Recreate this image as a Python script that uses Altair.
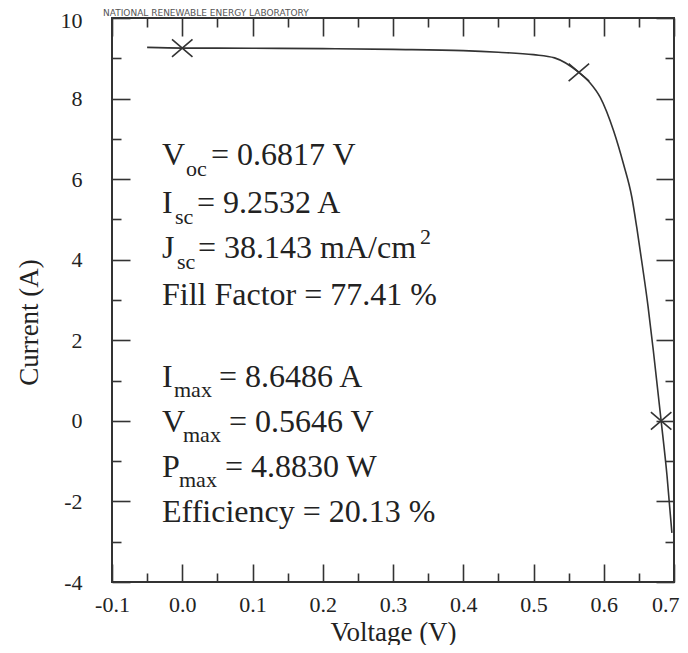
import altair as alt
import pandas as pd

# ---- data ----
voltage = [-0.05, 0.0, 0.10, 0.20, 0.30, 0.40, 0.45, 0.50, 0.53, 0.5646, 0.58,
           0.595, 0.614, 0.628, 0.640, 0.647, 0.655, 0.663, 0.6706, 0.6817, 0.690, 0.697]
current = [9.27, 9.2532, 9.25, 9.24, 9.22, 9.19, 9.15, 9.09, 9.01, 8.6486, 8.40,
           8.03, 7.20, 6.38, 5.55, 4.80, 3.85, 2.85, 1.74, 0.0, -1.35, -2.78]

marker_v = [0.0, 0.5646, 0.6817]
marker_i = [9.2532, 8.6486, 0.0]

x_major = [-0.1, 0.0, 0.1, 0.2, 0.3, 0.4, 0.5, 0.6, 0.7]
x_minor = [-0.05, 0.05, 0.15, 0.25, 0.35, 0.45, 0.55, 0.65]
y_major = [-4, -2, 0, 2, 4, 6, 8, 10]
y_minor = [-3, -1, 1, 3, 5, 7, 9]

ann_text = ["V", "oc", "= 0.6817 V",
            "I", "sc", "= 9.2532 A",
            "J", "sc", "= 38.143 mA/cm", "2",
            "Fill Factor = 77.41 %",
            "I", "max", "= 8.6486 A",
            "V", "max", "= 0.5646 V",
            "P", "max", "= 4.8830 W",
            "Efficiency = 20.13 %"]
ann_px = [50, 74, 99,
          50, 63, 85,
          50, 65, 86, 308,
          50,
          50, 62, 107,
          50, 71, 117,
          50, 67, 113,
          50]
ann_py = [147, 158, 147,
          195, 206, 195,
          240, 251, 240, 226,
          287,
          369, 379, 369,
          414, 424, 414,
          459, 469, 459,
          504]
ann_fs = [32, 22, 32,
          32, 22, 32,
          32, 22, 32, 22,
          32,
          32, 22, 32,
          32, 22, 32,
          32, 22, 32,
          32]

header_text = ["NATIONAL RENEWABLE ENERGY LABORATORY"]

# ---- chart ----
W, H = 562, 564
FONT = "Liberation Serif"
INK = "#222222"
LINE = "#333333"

curve_df = pd.DataFrame({"V": voltage, "I": current})
mk_df = pd.DataFrame({"V": marker_v, "I": marker_i})
ann_df = pd.DataFrame({"t": ann_text, "px": ann_px, "py": ann_py, "fs": ann_fs})
hdr_df = pd.DataFrame({"t": header_text, "px": [-9], "py": [-2]})

xs = alt.Scale(domain=[-0.1, 0.7], nice=False, zero=False)
ys = alt.Scale(domain=[-4, 10], nice=False, zero=False)

x_lab = "datum.value < 0 ? '-' + format(-datum.value, '.1f') : format(datum.value, '.1f')"
y_lab = "datum.value < 0 ? '-' + format(-datum.value, 'd') : format(datum.value, 'd')"


def tick_axis(orient, offset, values, size):
    return alt.Axis(orient=orient, offset=offset, values=values, tickSize=size,
                    tickWidth=1.6, tickColor=LINE, labels=False, domain=False,
                    grid=False, title="")


x_label_axis = alt.Axis(
    orient="bottom", values=x_major, ticks=False, domain=False, grid=False,
    labelExpr=x_lab, labelFont=FONT, labelFontSize=22, labelColor=INK,
    labelPadding=12, labelFlush=False, labelOverlap=False,
    labelAlign={"condition": {"test": "datum.value > 0.65", "value": "right"}, "value": "center"},
    labelOffset={"condition": {"test": "datum.value > 0.65", "value": 5}, "value": 0},
    title="Voltage (V)", titleFont=FONT, titleFontSize=27, titleFontWeight="normal",
    titleColor=INK, titleBaseline="alphabetic", titleY=58,
)
y_label_axis = alt.Axis(
    orient="left", values=y_major, ticks=False, domain=False, grid=False,
    labelExpr=y_lab, labelFont=FONT, labelFontSize=22, labelColor=INK,
    labelPadding=30, labelOverlap=False,
    labelOffset={"condition": {"test": "datum.value > 9", "value": 2}, "value": 0},
    title="Current (A)", titleFont=FONT, titleFontSize=27, titleFontWeight="normal",
    titleColor=INK, titlePadding=17, titleY=304,
)


def ghost(xaxis, yaxis):
    return alt.Chart(curve_df).mark_point(opacity=0).encode(
        x=alt.X("V:Q", scale=xs, axis=xaxis),
        y=alt.Y("I:Q", scale=ys, axis=yaxis),
    )


curve = alt.Chart(curve_df).mark_line(color=LINE, strokeWidth=1.6, interpolate="monotone").encode(
    x=alt.X("V:Q", scale=xs, axis=x_label_axis),
    y=alt.Y("I:Q", scale=ys, axis=y_label_axis),
    order="V:Q",
)

bot_major = ghost(tick_axis("top", -H, x_major, 18), tick_axis("right", -W, y_major, 18))
bot_minor = ghost(tick_axis("top", -H, x_minor, 9), tick_axis("right", -W, y_minor, 9))
top_major = ghost(tick_axis("bottom", -H, x_major, 18), tick_axis("left", -W, y_major, 18))
top_minor = ghost(tick_axis("bottom", -H, x_minor, 9), tick_axis("left", -W, y_minor, 9))

markers = alt.Chart(mk_df).mark_point(
    shape="M-1,-0.85L1,0.85M-1,0.85L1,-0.85", size=420, filled=False,
    stroke=LINE, strokeWidth=1.6, opacity=1,
).encode(
    x=alt.X("V:Q", scale=xs, axis=None),
    y=alt.Y("I:Q", scale=ys, axis=None),
)

annot = alt.Chart(ann_df).mark_text(align="left", baseline="alphabetic", font=FONT,
                                    color=INK).encode(
    x=alt.X("px:Q", scale=None, axis=None),
    y=alt.Y("py:Q", scale=None, axis=None),
    text="t:N",
    size=alt.Size("fs:Q", scale=None, legend=None),
)

header = alt.Chart(hdr_df).mark_text(align="left", baseline="alphabetic",
                                     font="DejaVu Sans", fontSize=9,
                                     color="#555555").encode(
    x=alt.X("px:Q", scale=None, axis=None),
    y=alt.Y("py:Q", scale=None, axis=None),
    text="t:N",
)

chart = alt.layer(
    curve, bot_major, bot_minor, top_major, top_minor, markers, annot, header
).resolve_scale(
    x="shared", y="shared"
).resolve_axis(
    x="independent", y="independent"
).properties(
    width=W, height=H,
    padding={"left": 104, "top": 10, "right": 6, "bottom": 63},
    autosize=alt.AutoSizeParams(type="none"),
    background="white",
).configure_view(stroke=LINE, strokeWidth=2)

chart.save("out.html", embed_options={"renderer": "svg", "actions": False})
